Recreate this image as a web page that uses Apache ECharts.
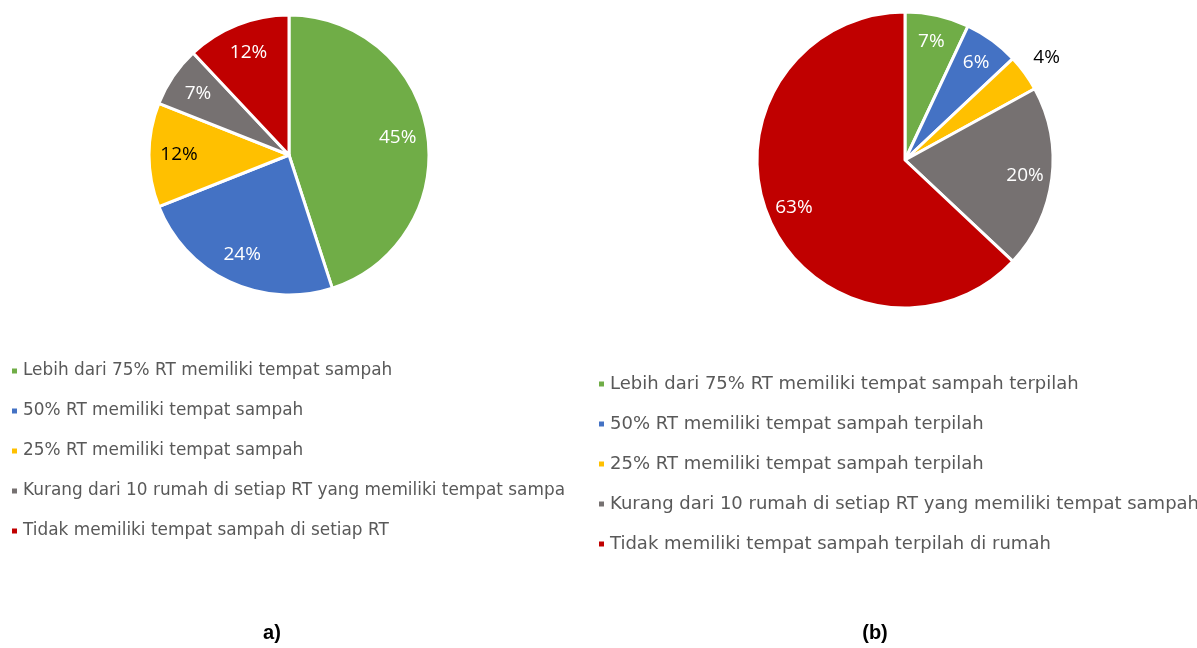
<!DOCTYPE html>
<html>
<head>
<meta charset="utf-8">
<script src="https://cdn.jsdelivr.net/npm/echarts@6/dist/echarts.min.js"></script>
<style>
  html, body { margin: 0; padding: 0; background: #fff; }
  #chart { width: 1197px; height: 648px; }
</style>
</head>
<body>
<div id="chart"></div>
<script>
// pie (a)
var namesA = [
  'Lebih dari 75% RT memiliki tempat sampah',
  '50% RT memiliki tempat sampah',
  '25% RT memiliki tempat sampah',
  'Kurang dari 10 rumah di setiap RT yang memiliki tempat sampah',
  'Tidak memiliki tempat sampah di setiap RT'
]
var valuesA = [45, 24, 12, 7, 12]

// pie (b)
var namesB = [
  'Lebih dari 75% RT memiliki tempat sampah terpilah',
  '50% RT memiliki tempat sampah terpilah',
  '25% RT memiliki tempat sampah terpilah',
  'Kurang dari 10 rumah di setiap RT yang memiliki tempat sampah terpilah',
  'Tidak memiliki tempat sampah terpilah di rumah'
]
var valuesB = [7, 6, 4, 20, 63]

var captions = ['a)', '(b)']

var colors = ['#70AD47', '#4472C4', '#FFC000', '#767171', '#C00000']
var FONT = 'Open Sans'
var LEGEND_FONT = 'DejaVu Sans'

var chart = echarts.init(document.getElementById('chart'))

function slices(names, values) {
  return names.map(function(n, i) {
    return { name: n, value: values[i], itemStyle: { color: colors[i] } }
  })
}

function labelSlices(names, values, darkIdx, hideIdx) {
  return names.map(function(n, i) {
    return {
      name: n,
      value: values[i],
      label: { show: i !== hideIdx, color: i === darkIdx ? '#000' : '#fff' }
    }
  })
}

var labelRing = {
  type: 'pie',
  silent: true,
  startAngle: 90,
  clockwise: true,
  animation: false,
  itemStyle: { color: 'rgba(0,0,0,0)', borderWidth: 0 },
  emphasis: { disabled: true },
  labelLine: { show: false },
  label: { position: 'inside', fontFamily: FONT, fontSize: 19, formatter: '{c}%' }
}

var mainPie = {
  type: 'pie',
  startAngle: 90,
  clockwise: true,
  animation: false,
  itemStyle: { borderColor: '#fff', borderWidth: 3 },
  emphasis: { disabled: true }
}

var legendBase = {
  orient: 'vertical',
  icon: 'rect',
  itemWidth: 7,
  itemHeight: 7,
  itemGap: 20,
  selectedMode: false
}

function legendText(size, width) {
  var s = {
    fontFamily: LEGEND_FONT,
    fontSize: size,
    color: '#595959',
    lineHeight: 20
  }
  if (width) {
    s.width = width
    s.overflow = 'truncate'
    s.ellipsis = ''
  }
  return s
}

chart.setOption({
  backgroundColor: '#fff',
  legend: [
    Object.assign({}, legendBase, {
      left: 5, top: 356, data: namesA,
      textStyle: legendText(16.9, 544)
    }),
    Object.assign({}, legendBase, {
      left: 592, top: 369, data: namesB,
      textStyle: legendText(18)
    })
  ],
  series: [
    Object.assign({}, mainPie, {
      center: [289, 155], radius: [0, 140],
      label: { show: false },
      data: slices(namesA, valuesA)
    }),
    Object.assign({}, mainPie, {
      center: [905, 160], radius: [0, 148],
      label: {
        position: 'outside', fontFamily: FONT, fontSize: 19, color: '#000',
        formatter: '{c}%', distanceToLabelLine: 0
      },
      labelLine: { show: false, length: 27, length2: 0 },
      labelLayout: { align: 'center', verticalAlign: 'middle' },
      data: slices(namesB, valuesB).map(function(d, i) {
        d.label = { show: i === 2 }
        return d
      })
    }),
    Object.assign({}, labelRing, {
      center: [289, 155], radius: [74, 140],
      data: labelSlices(namesA, valuesA, 2, -1)
    }),
    Object.assign({}, labelRing, {
      center: [905, 160], radius: [88, 148],
      data: labelSlices(namesB, valuesB, -1, 2)
    })
  ],
  graphic: [
    { type: 'text', x: 272, y: 633, style: { text: captions[0], font: 'bold 20px "Liberation Sans"', fill: '#000', textAlign: 'center', textVerticalAlign: 'middle' } },
    { type: 'text', x: 875, y: 633, style: { text: captions[1], font: 'bold 20px "Liberation Sans"', fill: '#000', textAlign: 'center', textVerticalAlign: 'middle' } }
  ]
})
</script>
</body>
</html>
